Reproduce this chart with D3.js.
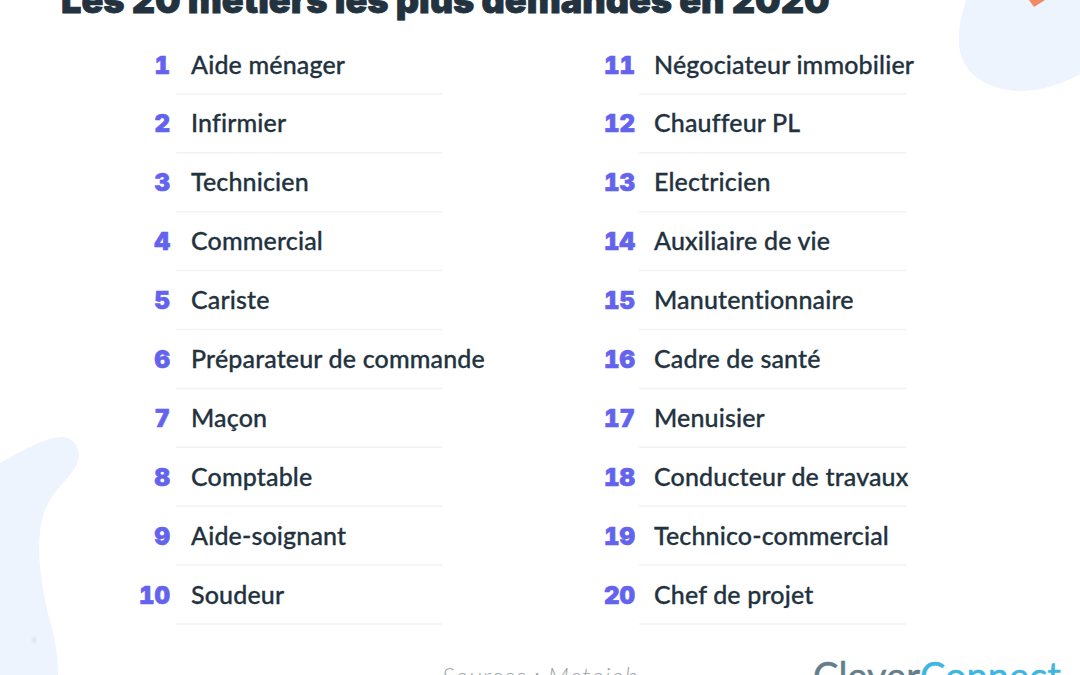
<!DOCTYPE html>
<html>
<head>
<meta charset="utf-8">
<script src="https://cdn.jsdelivr.net/npm/d3@7"></script>
<style>
html, body {margin:0; padding:0; background:#fff; overflow:hidden;}
svg {display:block;}
</style>
</head>
<body>
<svg id="chart" width="1080" height="675" font-family="Lato, sans-serif"></svg>
<script>
var titleText = "Les 20 métiers les plus demandés en 2020";
var sourceText = "Sources : Metojob";
var logoParts = ["Clever", "Connect"];

var ranksLeft = [1, 2, 3, 4, 5, 6, 7, 8, 9, 10];
var ranksRight = [11, 12, 13, 14, 15, 16, 17, 18, 19, 20];
var jobsLeft = ["Aide ménager", "Infirmier", "Technicien", "Commercial", "Cariste",
    "Préparateur de commande", "Maçon", "Comptable", "Aide-soignant", "Soudeur"];
var jobsRight = ["Négociateur immobilier", "Chauffeur PL", "Electricien", "Auxiliaire de vie", "Manutentionnaire",
    "Cadre de santé", "Menuisier", "Conducteur de travaux", "Technico-commercial", "Chef de projet"];

var svg = d3.select("#chart");
var blue = "#edf4fe", ink = "#22323e", violet = "#6463ee", rule = "#f1f2f3";

// background blobs
svg.append("path")
    .attr("fill", blue)
    .attr("d", "M0,463 C20,452 45,437 62,437 C78,438 83,455 75,468 C66,482 48,494 42,520 C36,548 40,575 47,610 C53,630 58,650 58,675 L0,675 Z");
svg.append("path")
    .attr("fill", blue)
    .attr("d", "M966,0 C958,25 955,50 966,66 C980,88 1015,96 1045,88 C1060,84 1072,79 1080,74 L1080,0 Z");
svg.append("path")
    .attr("fill", "#f08a63")
    .attr("d", "M1029,0 L1045,0 L1034,7 Z");
svg.append("path")
    .attr("fill", "#dfe7f3")
    .attr("d", "M34,636 L37,640 L34,644 L31,640 Z");

svg.append("text")
    .attr("x", 61)
    .attr("y", 13)
    .attr("font-family", "Inter, sans-serif")
    .attr("font-size", 36.1)
    .attr("font-weight", 900)
    .attr("fill", ink)
    .attr("stroke", ink)
    .attr("stroke-width", 0.8)
    .text(titleText);

// one scale for the rows, each column only changes its x positions
var yScale = d3.scaleBand()
    .domain(d3.range(10))
    .range([35.5, 624.5]);

function drawColumn(ranks, jobs, rankX, labelX, ruleX1, ruleX2) {
    var g = svg.append("g");
    var row = g.selectAll("g")
        .data(jobs)
        .enter()
        .append("g")
        .attr("transform", function(d, i) {return "translate(0," + yScale(i) + ")";});

    row.append("line")
        .attr("x1", ruleX1)
        .attr("x2", ruleX2)
        .attr("y1", yScale.bandwidth() - 0.5)
        .attr("y2", yScale.bandwidth() - 0.5)
        .attr("stroke", rule)
        .attr("stroke-width", 1.5);

    row.append("text")
        .attr("x", rankX)
        .attr("y", 38)
        .attr("text-anchor", "end")
        .attr("font-family", "Inter, sans-serif")
        .attr("font-size", 24)
        .attr("font-weight", 900)
        .style("font-feature-settings", "'tnum'")
        .attr("fill", violet)
        .attr("stroke", violet)
        .attr("stroke-width", 0.6)
        .text(function(d, i) {return ranks[i];});

    row.append("text")
        .attr("x", labelX)
        .attr("y", 38)
        .attr("font-size", 25)
        .attr("letter-spacing", 0.15)
        .attr("font-weight", 500)
        .attr("fill", ink)
        .attr("stroke", ink)
        .attr("stroke-width", 0.3)
        .text(function(d) {return d;});
}

drawColumn(ranksLeft, jobsLeft, 170, 191, 176, 442);
drawColumn(ranksRight, jobsRight, 635, 654, 639, 906);

svg.append("text")
    .attr("x", 442)
    .attr("y", 686)
    .attr("font-size", 25)
    .attr("font-weight", 300)
    .attr("font-style", "italic")
    .attr("letter-spacing", 0.9)
    .attr("fill", "#a4a9ad")
    .text(sourceText);

var logo = svg.append("text")
    .attr("x", 813)
    .attr("y", 690)
    .attr("font-size", 38)
    .attr("font-weight", 400)
    .attr("stroke-width", 0.5);
logo.append("tspan").attr("fill", "#647e8b").attr("stroke", "#647e8b").text(logoParts[0]);
logo.append("tspan").attr("fill", "#3fb6e2").attr("stroke", "#3fb6e2").text(logoParts[1]);
</script>
</body>
</html>
